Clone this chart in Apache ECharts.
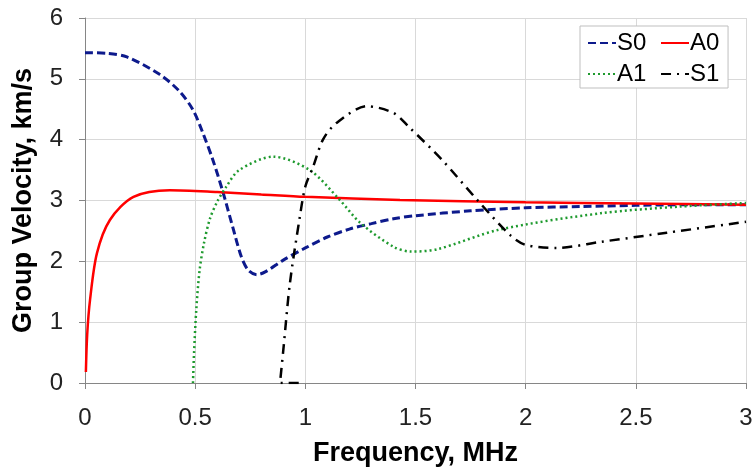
<!DOCTYPE html>
<html>
<head>
<meta charset="utf-8">
<script src="https://cdn.jsdelivr.net/npm/echarts@6/dist/echarts.min.js"></script>
<style>
  html, body { margin: 0; padding: 0; background: #fff; }
  #chart { width: 756px; height: 468px; }
</style>
</head>
<body>
<div id="chart"></div>
<script>
// values (frequency in MHz, group velocity in km/s)
var s0Freq = [0, 0.1, 0.19, 0.34, 0.43, 0.49, 0.535, 0.58, 0.626, 0.67, 0.71, 0.74, 0.78, 0.82, 0.9, 1.0, 1.1, 1.2, 1.3, 1.4, 1.5, 1.75, 2.0, 2.25, 2.5, 2.75, 3.0];
var s0Vel  = [5.43, 5.42, 5.36, 5.07, 4.79, 4.49, 4.11, 3.67, 3.14, 2.57, 2.07, 1.86, 1.78, 1.83, 2.02, 2.22, 2.4, 2.53, 2.62, 2.7, 2.75, 2.83, 2.88, 2.9, 2.92, 2.93, 2.93];

var a0Freq = [0.004, 0.01, 0.023, 0.054, 0.113, 0.22, 0.385, 0.6, 0.8, 1.0, 1.43, 2.0, 2.5, 3.0];
var a0Vel  = [0.18, 0.8, 1.37, 2.13, 2.68, 3.06, 3.17, 3.14, 3.1, 3.06, 3.01, 2.97, 2.95, 2.93];

var a1Freq = [0.49, 0.495, 0.505, 0.52, 0.54, 0.567, 0.6, 0.64, 0.7, 0.855, 1.02, 1.156, 1.25, 1.4, 1.48, 1.6, 1.88, 2.34, 2.7, 3.0];
var a1Vel  = [0, 0.5, 1.2, 1.85, 2.3, 2.7, 2.98, 3.22, 3.5, 3.72, 3.5, 3.01, 2.63, 2.24, 2.16, 2.2, 2.52, 2.79, 2.9, 2.96];

var s1Freq = [0.97, 0.885, 0.9, 0.93, 0.975, 1.0, 1.035, 1.08, 1.14, 1.28, 1.4, 1.47, 1.62, 1.78, 1.93, 2.0, 2.14, 2.34, 2.64, 3.0];
var s1Vel  = [0, 0, 0.54, 1.64, 2.73, 3.23, 3.55, 4.0, 4.27, 4.55, 4.44, 4.21, 3.67, 3.01, 2.43, 2.27, 2.22, 2.32, 2.47, 2.65];

var xTicks = { min: 0, max: 3, interval: 0.5 };
var yTicks = { min: 0, max: 6, interval: 1 };

function pairs(xs, ys) {
  return xs.map(function (x, i) { return [x, ys[i]]; });
}

var chart = echarts.init(document.getElementById('chart'));

var gridColor = '#d9d9d9';
var axisColor = '#868686';
var font = 'Liberation Sans, Arial, sans-serif';

var option = {
  animation: false,
  grid: { left: 85, right: 10, top: 18, bottom: 85, outerBoundsMode: 'none' },
  legend: {
    data: ['S0', 'A0', 'A1', 'S1'],
    left: 580,
    top: 26,
    width: 150,
    orient: 'horizontal',
    backgroundColor: '#fff',
    borderColor: '#bfbfbf',
    borderWidth: 1,
    padding: [5, 2, 2, 7],
    itemGap: 7,
    itemWidth: 28,
    itemHeight: 12,
    itemStyle: { opacity: 0 },
    formatter: function (name) { return name + '\u00a0'; },
    textStyle: { fontFamily: font, fontSize: 24, color: '#000', padding: [0, 0, 0, -4] }
  },
  xAxis: {
    type: 'value',
    min: xTicks.min,
    max: xTicks.max,
    interval: xTicks.interval,
    name: 'Frequency, MHz',
    nameLocation: 'middle',
    nameGap: 57,
    nameTextStyle: { fontFamily: font, fontSize: 27, fontWeight: 'bold', color: '#000' },
    axisLine: { show: true, lineStyle: { color: axisColor, width: 1 } },
    axisTick: { show: true, length: 6, lineStyle: { color: axisColor } },
    axisLabel: { fontFamily: font, fontSize: 24, color: '#222', margin: 23 },
    splitLine: { show: true, lineStyle: { color: gridColor, width: 1 } }
  },
  yAxis: {
    type: 'value',
    min: yTicks.min,
    max: yTicks.max,
    interval: yTicks.interval,
    name: 'Group Velocity, km/s',
    nameLocation: 'middle',
    nameGap: 48,
    nameTextStyle: { fontFamily: font, fontSize: 27, fontWeight: 'bold', color: '#000' },
    axisLine: { show: true, lineStyle: { color: axisColor, width: 1 } },
    axisTick: { show: true, length: 6, lineStyle: { color: axisColor } },
    axisLabel: { fontFamily: font, fontSize: 24, color: '#222', margin: 22 },
    splitLine: { show: true, lineStyle: { color: gridColor, width: 1 } }
  },
  series: [
    {
      name: 'S0',
      type: 'line',
      data: pairs(s0Freq, s0Vel),
      smooth: 0.3,
      symbol: 'none',
      color: '#0d1a8c',
      lineStyle: { color: '#0d1a8c', width: 3, type: [8, 4] }
    },
    {
      name: 'A0',
      type: 'line',
      data: pairs(a0Freq, a0Vel),
      smooth: 0.3,
      symbol: 'none',
      color: '#ff0000',
      lineStyle: { color: '#ff0000', width: 2.5, type: 'solid' }
    },
    {
      name: 'A1',
      type: 'line',
      data: pairs(a1Freq, a1Vel),
      smooth: 0.3,
      symbol: 'none',
      color: '#1e9a2e',
      lineStyle: { color: '#1e9a2e', width: 2.5, type: [2, 3] }
    },
    {
      name: 'S1',
      type: 'line',
      data: pairs(s1Freq, s1Vel),
      smooth: 0.3,
      symbol: 'none',
      color: '#000',
      lineStyle: { color: '#000', width: 2.5, type: [10, 6, 2, 6] }
    }
  ]
};

chart.setOption(option);
</script>
</body>
</html>
